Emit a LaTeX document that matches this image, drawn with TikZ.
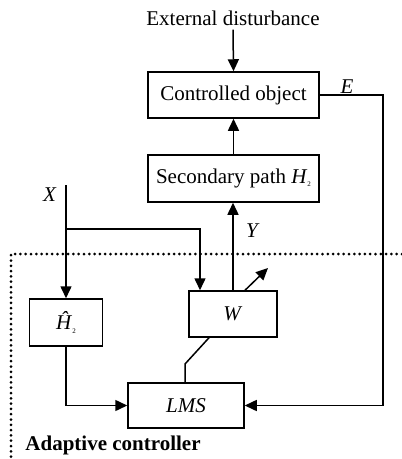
\documentclass[tikz,border=0pt]{standalone}
\usepackage{fontspec}
\setmainfont{Liberation Serif}
\usetikzlibrary{arrows.meta}
\newcommand{\subtwo}{\raisebox{-0.35ex}{\fontsize{7}{8}\selectfont 2}}
\begin{document}
\begin{tikzpicture}[x=1pt,y=-1pt,
  every node/.style={font=\fontsize{21}{25}\selectfont},
  box/.style={draw,line width=1.5pt,inner sep=0pt},
  ln/.style={line width=1.5pt},
  arr/.style={ln,-{Triangle[length=12pt,width=11pt]}},
  dotline/.style={line width=3pt,line cap=round,dash pattern=on 0pt off 5.3pt}]
\useasboundingbox (0,0) rectangle (402,459);
\node[inner sep=0pt] (ext) at (233,18) {External disturbance};
\node[box,minimum width=171pt,minimum height=46pt] (co) at (233.5,95) {Controlled object};
\node[box,minimum width=171pt,minimum height=47pt] (sp) at (233.5,178.5) {Secondary path \textit{H}\subtwo};
\node[box,minimum width=88pt,minimum height=46pt] (w) at (233,314) {\textit{W}};
\node[box,minimum width=73pt,minimum height=47pt] (h) at (66,322.5) {\textit{\^H}\subtwo};
\node[box,minimum width=116pt,minimum height=45pt] (lms) at (186,405.5) {\textit{LMS}};
\node (elab) at (347,87) {\textit{E}};
\node (xlab) at (50,195) {\textit{X}};
\node (ylab) at (253,231) {\textit{Y}};
\node[font=\fontsize{21}{25}\selectfont\bfseries] (ac) at (113,445) {Adaptive controller};
\coordinate (xin) at (66,185);
\coordinate (jn) at (66,229);
\coordinate (wa) at (200,229);
\coordinate (tip) at (268,268);
\coordinate (bend) at (185,364);
\coordinate (er) at (383,95);
\draw[arr] ([yshift=-4pt]ext.south) -- (co.north);
\draw[arr] (sp.north) -- (co.south);
\draw[arr] (w.north) -- (w.north |- sp.south);
\draw[arr] (xin) -- (h.north);
\draw[arr] (jn) -- (wa) -- (wa |- w.north);
\draw[arr] ([xshift=12pt]w.north) -- (tip);
\draw[ln] ([xshift=-24pt]w.south) -- (bend) -- (bend |- lms.north);
\draw[arr] (h.south) |- (lms.west);
\draw[arr] (co.east) -- (er) |- (lms.east);
\draw[dotline] (402,254) -- (11,254) -- (11,459);
\end{tikzpicture}
\end{document}
